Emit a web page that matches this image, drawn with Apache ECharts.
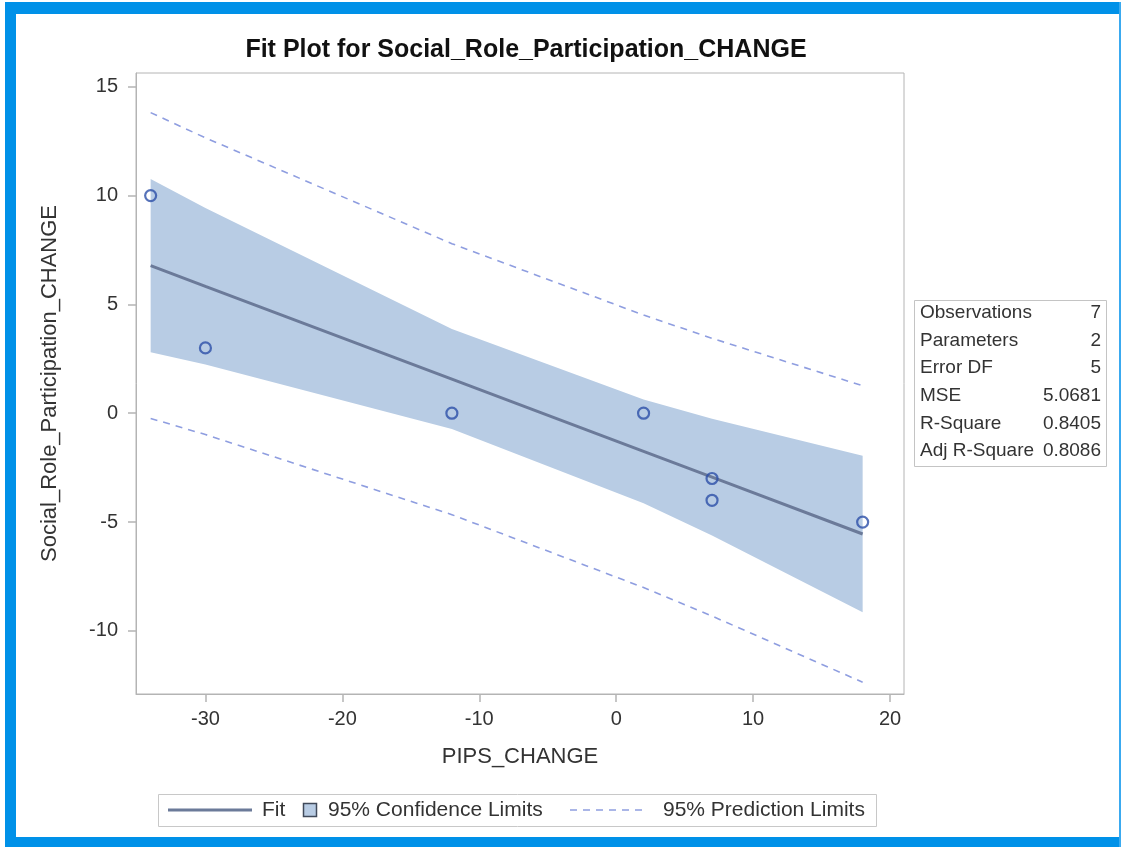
<!DOCTYPE html>
<html><head><meta charset="utf-8">
<script src="https://cdn.jsdelivr.net/npm/echarts@6/dist/echarts.min.js"></script>
<style>html,body{margin:0;padding:0;background:#fff}#c{width:1121px;height:847px}</style>
</head><body><div id="c"></div>
<script>
// ---- data ----
const obsX = [-34, -30, -12, 2, 7, 7, 18];
const obsY = [10, 3, 0, 0, -3, -4, -5];
const bandX = [-34, -30, -12, 2, 7, 18];
const fitY = [6.78, 5.83, 1.57, -1.75, -2.94, -5.55];
const clLower = [2.80, 2.24, -0.73, -4.14, -5.62, -9.14];
const clUpper = [10.76, 9.43, 3.87, 0.63, -0.26, -1.96];
const plLower = [-0.24, -0.98, -4.66, -8.01, -9.32, -12.36];
const plUpper = [13.81, 12.65, 7.79, 4.51, 3.44, 1.26];
const xTicks = [-30, -20, -10, 0, 10, 20];
const yTicks = [-10, -5, 0, 5, 10, 15];
const statLabels = ['Observations', 'Parameters', 'Error DF', 'MSE', 'R-Square', 'Adj R-Square'];
const statValues = ['7', '2', '5', '5.0681', '0.8405', '0.8086'];
const titleText = 'Fit Plot for Social_Role_Participation_CHANGE';
const xName = 'PIPS_CHANGE';
const yName = 'Social_Role_Participation_CHANGE';
const legendLabels = ['Fit', '95% Confidence Limits', '95% Prediction Limits'];

const FONT = '"Liberation Sans", Arial, sans-serif';
const AXC = '#b4b4b4';
const TXT = '#333';
const FRAME = '#0091e8';
const BAND = '#b8cce4';
const FITC = '#6b7a99';
const DASHC = '#8f9ee0';
const MARK = '#2c4fa8';

const pairs = (xs, ys) => xs.map((x, i) => [x, ys[i]]);

const chart = echarts.init(document.getElementById('c'), null, {renderer: 'canvas'});

function txt(text, x, y, size, align, extra) {
  return Object.assign({
    type: 'text', x: x, y: y, silent: true,
    style: {text: text, fill: TXT, fontSize: size, fontFamily: FONT,
      align: align, verticalAlign: 'middle', textAlign: align, textVerticalAlign: 'middle'}
  }, extra || {});
}

const graphics = [
  // blue frame
  {type: 'rect', shape: {x: 5, y: 2, width: 1116, height: 12}, style: {fill: FRAME}, silent: true},
  {type: 'rect', shape: {x: 5, y: 2, width: 11, height: 845}, style: {fill: FRAME}, silent: true},
  {type: 'rect', shape: {x: 5, y: 837, width: 1116, height: 10}, style: {fill: FRAME}, silent: true},
  {type: 'rect', shape: {x: 1119, y: 2, width: 2, height: 845}, style: {fill: '#3aaaf0'}, silent: true},
  // stats box
  {type: 'rect', shape: {x: 914.5, y: 300.5, width: 192, height: 166}, style: {fill: '#fff', stroke: '#c4c4c4', lineWidth: 1}, silent: true}
];
const rowY0 = 313, rowStep = 27.6;
statLabels.forEach((l, i) => {
  graphics.push(txt(l, 920, rowY0 + i * rowStep, 19, 'left'));
  graphics.push(txt(statValues[i], 1101, rowY0 + i * rowStep, 19, 'right'));
});
// legend box
const LY = 810;
graphics.push({type: 'rect', shape: {x: 158.5, y: 794.5, width: 718, height: 32}, style: {fill: '#fff', stroke: '#c8c8c8', lineWidth: 1}, silent: true});
graphics.push({type: 'line', shape: {x1: 168, y1: LY, x2: 252, y2: LY}, style: {stroke: FITC, lineWidth: 3}, silent: true});
graphics.push(txt(legendLabels[0], 262, LY, 21, 'left'));
graphics.push({type: 'rect', shape: {x: 303.5, y: 803.5, width: 13, height: 13}, style: {fill: BAND, stroke: '#404a5a', lineWidth: 1.5}, silent: true});
graphics.push(txt(legendLabels[1], 328, LY, 21, 'left'));
graphics.push({type: 'line', shape: {x1: 570, y1: LY, x2: 646, y2: LY}, style: {stroke: DASHC, lineWidth: 1.5, lineDash: [7, 6]}, silent: true});
graphics.push(txt(legendLabels[2], 663, LY, 21, 'left'));

const option = {
  backgroundColor: '#fff',
  animation: false,
  title: {
    text: titleText, left: 521, top: 33, textAlign: 'center',
    textStyle: {fontFamily: FONT, fontSize: 25, fontWeight: 'bold', color: '#111'}
  },
  grid: {left: 136, right: 217, top: 73, bottom: 153, show: true, borderColor: AXC, borderWidth: 1, backgroundColor: 'transparent'},
  xAxis: {
    type: 'value', min: -35.07, max: 21.02,
    name: xName, nameLocation: 'middle', nameGap: 52,
    nameTextStyle: {fontFamily: FONT, fontSize: 22, color: TXT},
    axisLine: {show: true, onZero: false, lineStyle: {color: AXC, width: 1}},
    axisTick: {show: true, inside: false, length: 8, customValues: xTicks, lineStyle: {color: AXC, width: 1.5}},
    axisLabel: {customValues: xTicks, fontFamily: FONT, fontSize: 20, color: TXT, margin: 15},
    splitLine: {show: false}
  },
  yAxis: {
    type: 'value', min: -12.9, max: 15.63,
    name: yName, nameLocation: 'middle', nameGap: 75, nameRotate: 90,
    nameTextStyle: {fontFamily: FONT, fontSize: 22, color: TXT},
    axisLine: {show: true, onZero: false, lineStyle: {color: AXC, width: 1}},
    axisTick: {show: true, inside: false, length: 8, customValues: yTicks, lineStyle: {color: AXC, width: 1.5}},
    axisLabel: {customValues: yTicks, fontFamily: FONT, fontSize: 20, color: TXT, margin: 18},
    splitLine: {show: false}
  },
  series: [
    {
      type: 'custom', name: legendLabels[1], silent: true, z: 1,
      data: [[bandX[0], clLower[0]]],
      renderItem: function (params, api) {
        const pts = [];
        for (let i = 0; i < bandX.length; i++) pts.push(api.coord([bandX[i], clUpper[i]]));
        for (let i = bandX.length - 1; i >= 0; i--) pts.push(api.coord([bandX[i], clLower[i]]));
        return {type: 'polygon', shape: {points: pts}, style: {fill: BAND}};
      }
    },
    {
      type: 'line', name: legendLabels[2], data: pairs(bandX, plUpper), symbol: 'none', silent: true, z: 2,
      lineStyle: {color: DASHC, width: 1.6, type: [7, 6]}
    },
    {
      type: 'line', name: legendLabels[2] + ' L', data: pairs(bandX, plLower), symbol: 'none', silent: true, z: 2,
      lineStyle: {color: DASHC, width: 1.6, type: [7, 6]}
    },
    {
      type: 'line', name: legendLabels[0], data: pairs(bandX, fitY), symbol: 'none', silent: true, z: 3,
      lineStyle: {color: FITC, width: 3}
    },
    {
      type: 'scatter', name: 'Obs', data: pairs(obsX, obsY), symbol: 'circle', symbolSize: 11, silent: true, z: 4,
      itemStyle: {color: 'rgba(0,0,0,0)', borderColor: MARK, borderWidth: 2.2}
    }
  ],
  graphic: graphics
};
chart.setOption(option);
</script>
</body></html>
